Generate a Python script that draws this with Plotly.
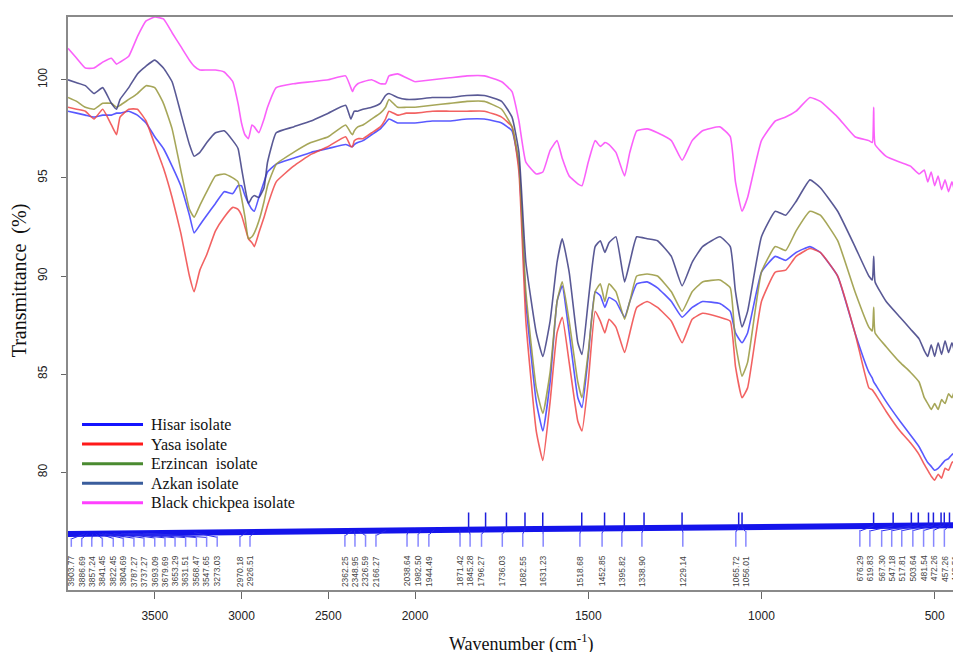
import plotly.graph_objects as go

# ---------------- data ----------------
WN = [4000, 3950, 3900, 3850, 3800, 3750, 3720, 3700, 3650, 3600,
      3550, 3500, 3450, 3400, 3350, 3300, 3273, 3240, 3200, 3150,
      3100, 3050, 3020, 3000, 2980, 2960, 2940, 2926, 2900, 2870,
      2850, 2800, 2700, 2600, 2500, 2400, 2370, 2360, 2350, 2330,
      2300, 2250, 2200, 2170, 2150, 2100, 2050, 2000,
      1950, 1900, 1850, 1800, 1750, 1720, 1700, 1680, 1650, 1631,
      1610, 1590, 1575, 1555, 1530, 1518, 1500, 1480, 1465, 1452,
      1440, 1420, 1395, 1380, 1360, 1330, 1300, 1260, 1229, 1200,
      1170, 1120, 1090, 1075, 1056, 1040, 1000, 960, 930, 900,
      860, 830, 780, 730, 690, 680, 676, 672, 640,
      600, 570, 545, 530, 520, 510, 500, 490, 480, 470, 460, 450, 440, 432, 424]

hisar = [98.4, 98.3, 98.2, 98.1, 98.2, 98.2, 98.3, 98.3, 98.4, 98.2,
         97.8, 97.1, 96.5, 95.6, 94.6, 93.1, 92.2, 92.6, 93.1, 93.7,
         94.3, 94.2, 94.6, 94.6, 94.1, 93.7, 93.4, 93.3, 94.0, 94.8,
         95.3, 95.7, 96.0, 96.3, 96.5, 96.7, 96.6, 96.6, 96.7, 96.8,
         96.9, 97.2, 97.5, 97.8, 98.0, 97.8, 97.8, 97.8,
         97.9, 97.9, 98.0, 98.0, 97.8, 97.4, 95.6, 88.7, 83.6, 82.1,
         84.6, 88.7, 89.5, 87.1, 83.8, 83.3, 85.9, 89.2, 89.0, 88.4,
         88.9, 88.7, 87.9, 88.7, 89.6, 89.7, 89.4, 88.7, 87.9, 88.4,
         88.7, 88.6, 88.2, 87.1, 86.6, 87.1, 90.2, 91.0, 90.8, 91.2,
         91.5, 91.2, 90.0, 87.1, 85.1, 84.8, 84.6, 84.5, 83.6,
         82.6, 81.9, 81.3, 80.8, 80.5, 80.3, 80.1, 80.2, 80.4, 80.6, 80.7, 80.9, 81.0, 81.2, 81.5]

yasa = [98.6, 98.5, 98.4, 98.0, 98.5, 97.7, 97.2, 98.1, 98.5, 98.5,
        97.9, 96.7, 95.5, 94.0, 92.2, 90.0, 89.2, 90.3, 91.1, 92.3,
        93.0, 93.5, 93.4, 93.1, 92.5, 91.9, 91.7, 91.5, 92.2, 93.0,
        93.6, 94.8, 95.6, 96.2, 96.6, 97.1, 96.6, 96.6, 96.9, 97.0,
        97.0, 97.3, 97.6, 98.0, 98.4, 98.2, 98.3, 98.3,
        98.4, 98.4, 98.4, 98.4, 98.1, 97.6, 95.3, 87.7, 82.1, 80.6,
        83.6, 87.1, 87.9, 85.6, 82.6, 82.1, 84.6, 88.2, 87.7, 87.1,
        87.8, 87.4, 86.1, 87.1, 88.4, 88.7, 88.4, 87.7, 86.6, 87.8,
        88.1, 87.9, 87.7, 85.4, 83.8, 84.3, 88.7, 90.2, 90.3, 91.0,
        91.4, 91.2, 90.0, 87.1, 84.3, 84.2, 84.1, 84.0, 83.1,
        82.1, 81.5, 80.9, 80.4, 80.1, 79.8, 79.6, 79.9, 79.7, 80.2, 80.1, 80.5, 80.6, 80.9, 81.0]

erzincan = [99.1, 98.9, 98.6, 98.5, 98.8, 98.8, 98.6, 98.7, 99.0, 99.3,
            99.7, 99.6, 98.8, 97.5, 95.4, 93.4, 93.0, 93.6, 94.3, 95.1,
            95.2, 95.0, 94.8, 94.0, 93.0, 91.9, 92.0, 92.2, 92.8, 93.8,
            94.6, 95.7, 96.3, 96.8, 97.1, 97.7, 97.3, 97.2, 97.4, 97.6,
            97.7, 98.0, 98.3, 98.6, 99.0, 98.6, 98.6, 98.6,
            98.7, 98.8, 98.9, 98.9, 98.5, 97.6, 95.8, 89.2, 84.3, 83.0,
            85.1, 88.7, 89.7, 87.7, 84.6, 83.8, 86.1, 89.2, 89.6, 88.7,
            89.6, 89.2, 87.8, 88.7, 90.0, 90.1, 90.0, 89.2, 88.2, 89.2,
            89.7, 89.8, 89.4, 86.6, 84.9, 85.6, 90.2, 91.5, 91.3, 92.3,
            93.3, 93.1, 91.8, 89.2, 87.4, 87.2, 88.4, 87.1, 86.4,
            85.6, 85.1, 84.6, 83.8, 83.5, 83.2, 83.5, 83.2, 83.7, 83.5, 84.0, 83.8, 84.3, 84.1, 84.6]

azkan = [100.0, 99.85, 99.7, 99.3, 99.6, 98.8, 98.5, 99.0, 99.6, 100.3,
         100.7, 101.0, 100.6, 99.9, 98.3, 96.7, 96.1, 96.3, 96.8, 97.3,
         97.4, 96.9, 96.5, 95.5, 94.5, 93.7, 94.0, 94.1, 94.0, 94.5,
         95.8, 97.3, 97.6, 97.9, 98.3, 98.7, 98.0, 98.2, 98.4, 98.4,
         98.5, 98.6, 98.8, 99.2, 99.3, 99.1, 99.0, 99.0,
         99.1, 99.1, 99.2, 99.2, 98.9, 98.1, 96.3, 90.7, 87.1, 85.9,
         87.7, 90.7, 91.9, 90.2, 86.6, 86.0, 88.7, 91.5, 91.8, 91.2,
         91.7, 92.0, 89.7, 90.7, 92.0, 91.9, 91.8, 91.0, 89.5, 90.7,
         91.5, 92.0, 91.5, 89.2, 87.4, 88.2, 92.0, 93.3, 93.1, 93.8,
         94.9, 94.5, 93.3, 91.5, 90.0, 89.8, 91.0, 89.7, 88.7,
         87.9, 87.3, 86.8, 86.2, 85.9, 86.5, 85.9, 86.6, 86.0, 86.7, 86.1, 86.6, 86.0, 86.7, 86.3]

black_chickpea = [101.6, 101.1, 100.6, 100.6, 100.9, 101.1, 100.8, 100.9, 101.2, 102.2,
                  103.0, 103.2, 103.1, 102.4, 101.7, 101.0, 100.7, 100.5, 100.5, 100.5,
                  100.4, 99.9, 98.8, 97.8, 97.2, 97.0, 97.7, 97.6, 97.3, 98.0,
                  98.6, 99.6, 99.8, 99.9, 100.0, 100.2, 99.6, 99.4, 99.6, 99.8,
                  99.9, 100.0, 99.8, 99.8, 100.2, 100.3, 100.1, 99.9,
                  100.0, 100.1, 100.2, 100.2, 99.9, 99.4, 97.9, 95.8, 95.2, 95.3,
                  96.4, 96.9, 96.0, 95.1, 94.7, 94.6, 95.8, 96.9, 96.6, 96.8,
                  96.7, 96.3, 95.1, 96.3, 97.4, 97.5, 97.3, 96.9, 95.9, 96.9,
                  97.4, 97.6, 97.1, 94.8, 93.3, 94.0, 96.9, 97.9, 98.1, 98.4,
                  99.1, 98.9, 98.1, 97.1, 96.9, 96.8, 98.6, 96.7, 96.1,
                  95.8, 95.6, 95.2, 95.4, 94.8, 95.3, 94.6, 95.1, 94.4, 94.9, 94.3, 94.8, 94.2, 94.7, 94.3]

series_names = ["Hisar isolate", "Yasa isolate", "Erzincan  isolate",
                "Azkan isolate", "Black chickpea isolate"]
series_values = [hisar, yasa, erzincan, azkan, black_chickpea]
line_colors = ["rgba(60,60,255,0.85)", "rgba(240,70,70,0.85)", "rgba(150,150,60,0.85)",
               "rgba(60,60,130,0.85)", "rgba(250,80,250,0.9)"]
legend_colors = ["#1414ff", "#ff1a1a", "#4a8a30", "#3a5d9c", "#ff40ff"]

# picked peaks and where their labels sit along the axis
peak_labels = ["3903.77", "3886.69", "3857.24", "3841.45", "3822.45", "3804.69", "3787.27",
               "3737.27", "3693.09", "3679.69", "3653.29", "3631.51", "3568.47", "3547.65",
               "3273.03", "2970.18", "2926.51", "2362.25", "2348.95", "2326.59", "2166.27",
               "2038.64", "1982.50", "1944.49", "1871.42", "1845.28", "1796.27", "1736.03",
               "1682.55", "1631.23", "1518.68", "1452.85", "1395.82", "1338.90", "1229.14",
               "1065.72", "1056.01", "676.29", "619.83", "567.30", "547.18", "517.81",
               "503.64", "481.54", "472.26", "457.26", "443.51"]
label_wn = [3981, 3921, 3863, 3802, 3739, 3681, 3620, 3562, 3500, 3441, 3383, 3322, 3260,
            3201, 3140, 3009, 2951, 2404, 2346, 2285, 2225, 2046, 1991, 1960, 1870, 1841,
            1808, 1748, 1689, 1630, 1524, 1460, 1403, 1345, 1227, 1074, 1045, 716, 687, 653,
            624, 595, 563, 532, 503, 472, 441]
BAND_WN = [4000, 2000, 424]
BAND_Y = [76.85, 77.05, 77.3]

SPLIT = 2000
X_LO = 424
DOM = 347 / 893

fig = go.Figure()


def axis_of(w):
    return "x" if w >= SPLIT else "x2"


def band_at(w):
    if w >= SPLIT:
        t = (BAND_WN[0] - w) / (BAND_WN[0] - BAND_WN[1])
        return BAND_Y[0] + t * (BAND_Y[1] - BAND_Y[0])
    t = (BAND_WN[1] - w) / (BAND_WN[1] - BAND_WN[2])
    return BAND_Y[1] + t * (BAND_Y[2] - BAND_Y[1])


# spectra, drawn on the two wavenumber scales
for name, vals, col in zip(series_names, series_values, line_colors):
    hi = [(w, v) for w, v in zip(WN, vals) if w >= SPLIT]
    lo = [(w, v) for w, v in zip(WN, vals) if w <= SPLIT]
    for part, xa in ((hi, "x"), (lo, "x2")):
        fig.add_trace(go.Scatter(
            x=[p[0] for p in part], y=[p[1] for p in part], xaxis=xa, yaxis="y",
            mode="lines", line=dict(color=col, width=1.6, shape="spline", smoothing=0.4),
            name=name, showlegend=False, hoverinfo="skip"))

# peak band
for xa, ws in (("x", BAND_WN[:2]), ("x2", BAND_WN[1:])):
    fig.add_trace(go.Scatter(x=ws, y=[band_at(w) for w in ws], xaxis=xa, yaxis="y",
                             mode="lines", line=dict(color="rgb(20,20,235)", width=6),
                             showlegend=False, hoverinfo="skip"))

lead = {"x": ([], []), "x2": ([], [])}
tick = {"x": ([], []), "x2": ([], [])}
up = {"x": ([], []), "x2": ([], [])}
peak_wn = [float(s) for s in peak_labels]
for pw, lw, lab in zip(peak_wn, label_wn, peak_labels):
    xa = axis_of(lw)
    lead[xa][0].extend([pw, lw, None])
    lead[xa][1].extend([band_at(pw), band_at(lw) - 0.25, None])
    tick[xa][0].extend([lw, lw, None])
    tick[xa][1].extend([band_at(lw) - 0.2, 76.2, None])
    if pw < 1850:
        up[axis_of(pw)][0].extend([pw, pw, None])
        up[axis_of(pw)][1].extend([band_at(pw), 77.95, None])
    fig.add_annotation(x=lw, y=75.85, xref=axis_of(lw), yref="y", text=lab,
                       textangle=-90, showarrow=False, xanchor="center", yanchor="top",
                       font=dict(family="Liberation Sans", size=8.5, color="#444"))

for xa in ("x", "x2"):
    fig.add_trace(go.Scatter(x=lead[xa][0], y=lead[xa][1], xaxis=xa, yaxis="y", mode="lines",
                             line=dict(color="rgb(40,40,235)", width=1),
                             showlegend=False, hoverinfo="skip"))
    fig.add_trace(go.Scatter(x=tick[xa][0], y=tick[xa][1], xaxis=xa, yaxis="y", mode="lines",
                             line=dict(color="rgb(135,135,255)", width=1.5),
                             showlegend=False, hoverinfo="skip"))
    if up[xa][0]:
        fig.add_trace(go.Scatter(x=up[xa][0], y=up[xa][1], xaxis=xa, yaxis="y", mode="lines",
                                 line=dict(color="rgb(30,30,220)", width=1.5),
                                 showlegend=False, hoverinfo="skip"))

# legend (drawn in the lower-left corner of the plot area)
LEG_TOP = 0.2887
LEG_STEP = 0.0341
for i, (name, col) in enumerate(zip(series_names, legend_colors)):
    yy = LEG_TOP - i * LEG_STEP
    fig.add_shape(type="line", xref="paper", yref="paper", x0=0.0157, x1=0.084,
                  y0=yy, y1=yy, line=dict(color=col, width=3))
    fig.add_annotation(text=name, xref="paper", yref="paper", x=0.091, y=yy,
                       xanchor="left", yanchor="middle", showarrow=False,
                       font=dict(family="Liberation Serif", size=16, color="#111"))

axis_style = dict(showline=True, linecolor="#8a8a8a", linewidth=2, mirror=True,
                  ticks="outside", ticklen=7, tickcolor="#666", showgrid=False,
                  zeroline=False, ticklabelstandoff=7,
                  tickfont=dict(family="Liberation Sans", size=12, color="#222"))

# the page adds an 8 px body margin, so the figure is shifted back by 8 px
fig.update_layout(
    width=961, height=652,
    margin=dict(l=60, r=8, t=7, b=70),
    paper_bgcolor="white", plot_bgcolor="white",
    showlegend=False,
    xaxis=dict(domain=[0, DOM], range=[4000, SPLIT], tickvals=[3500, 3000, 2500],
               anchor="y", **axis_style),
    xaxis2=dict(domain=[DOM, 1], range=[SPLIT, X_LO], tickvals=[2000, 1500, 1000, 500],
                anchor="y", **axis_style),
    yaxis=dict(range=[74, 103.2], tickvals=[80, 85, 90, 95, 100], tickangle=-90,
               anchor="x", showline=True, linecolor="#8a8a8a", linewidth=2,
               ticks="outside", ticklen=5, tickcolor="#666", showgrid=False, zeroline=False,
               ticklabelstandoff=9,
               tickfont=dict(family="Liberation Sans", size=12, color="#222")),
)

fig.add_annotation(text="Wavenumber (cm<sup>-1</sup>)", xref="paper", yref="paper",
                   x=0.508, y=-0.092, xanchor="center", yanchor="middle", showarrow=False,
                   font=dict(family="Liberation Serif", size=18, color="#111"))
fig.add_annotation(text="Transmittance  (%)", xref="paper", yref="paper",
                   x=-0.054, y=0.54, xanchor="center", yanchor="middle", showarrow=False,
                   textangle=-90, font=dict(family="Liberation Serif", size=20, color="#111"))

fig.write_html("out.html")
